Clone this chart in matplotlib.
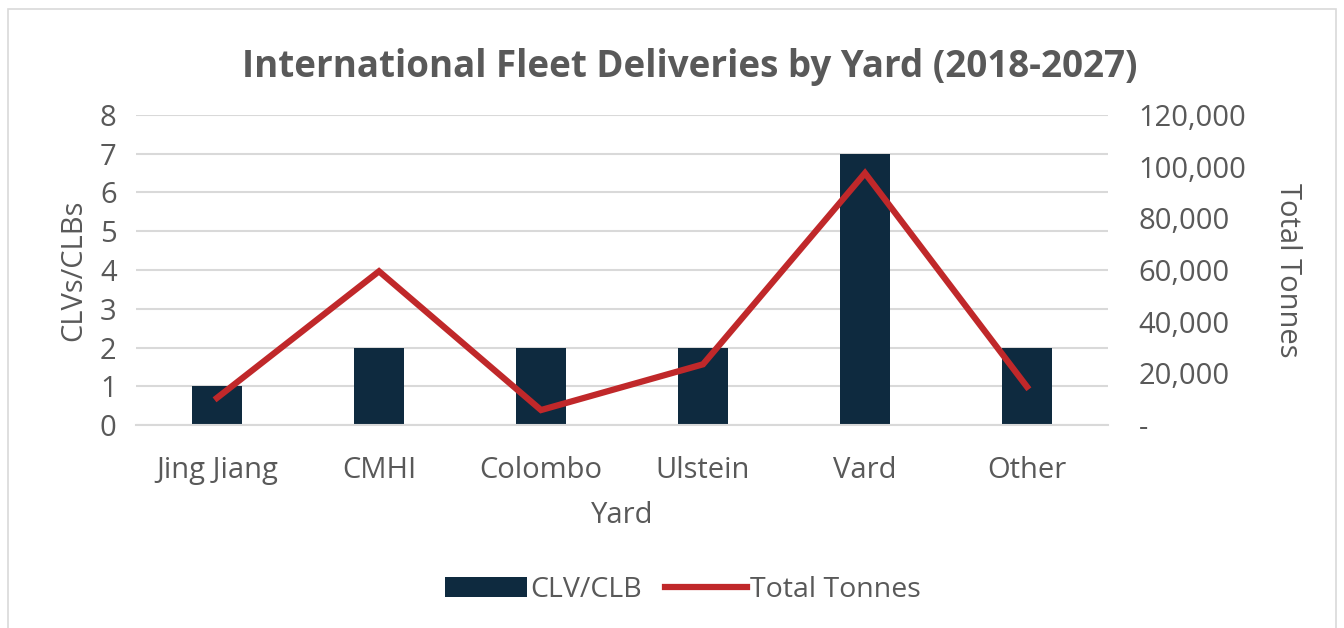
import matplotlib
matplotlib.use("Agg")
import matplotlib.pyplot as plt
from matplotlib.ticker import FuncFormatter
from matplotlib.patches import Rectangle

yards = ["Jing Jiang", "CMHI", "Colombo", "Ulstein", "Vard", "Other"]
vessels = [1, 2, 2, 2, 7, 2]
tonnes = [10500, 59500, 5800, 23500, 97500, 14800]

NAVY = "#0e2a3f"
RED = "#c0282a"
GREY = "#595959"
plt.rcParams["font.family"] = ["Open Sans", "DejaVu Sans"]
FS = 21

fig = plt.figure(figsize=(13.44, 6.28), dpi=100)
fig.patches.append(Rectangle((0.006, -0.01), 0.988, 0.995, transform=fig.transFigure,
                             fill=False, ec="#d9d9d9", lw=1.2))
ax = fig.add_axes([0.1012, 0.3232, 0.7232, 0.4937])
ax2 = ax.twinx()

x = list(range(len(yards)))
ax.bar(x, vessels, width=0.31, color=NAVY, label="CLV/CLB", zorder=2)
ax2.plot(x, tonnes, color=RED, lw=4.5, label="Total Tonnes", solid_joinstyle="miter")

ax.set_xlim(-0.5, len(yards) - 0.5)
ax.set_ylim(0, 8)
ax.set_yticks(range(0, 9))
ax2.set_ylim(0, 120000)
ax2.set_yticks(range(0, 120001, 20000))
ax2.yaxis.set_major_formatter(FuncFormatter(lambda v, p: "-" if v == 0 else f"{int(v):,}"))

ax.grid(axis="y", color="#d9d9d9", lw=1.5, zorder=0)
ax.set_axisbelow(True)
for a in (ax, ax2):
    for s in a.spines.values():
        s.set_visible(False)
    a.tick_params(length=0, labelsize=FS, colors=GREY)
ax.spines["bottom"].set_visible(True)
ax.spines["bottom"].set_color("#d9d9d9")
ax.spines["bottom"].set_linewidth(1.5)

ax.set_xticks(x)
ax.set_xticklabels(yards)
ax.tick_params(axis="x", pad=22)
ax.tick_params(axis="y", pad=14)
ax2.tick_params(axis="y", pad=22)

ax.set_xlabel("Yard", fontsize=FS, color=GREY, labelpad=12)
ax.set_ylabel("CLVs/CLBs", fontsize=FS, color=GREY, labelpad=8)
ax2.set_ylabel("Total Tonnes", fontsize=FS, color=GREY, rotation=270, labelpad=40)

fig.text(0.513, 0.893, "International Fleet Deliveries by Yard (2018-2027)",
         ha="center", va="center", fontsize=26.5, fontweight="bold", color=GREY)

h1, l1 = ax.get_legend_handles_labels()
h2, l2 = ax2.get_legend_handles_labels()
fig.legend(h1 + h2, l1 + l2, loc="center", bbox_to_anchor=(0.508, 0.06), ncol=2,
           frameon=False, fontsize=20.5, labelcolor=GREY, handlelength=2.9,
           handletextpad=0.1, columnspacing=0.8)

fig.savefig("out.png", dpi=100)
